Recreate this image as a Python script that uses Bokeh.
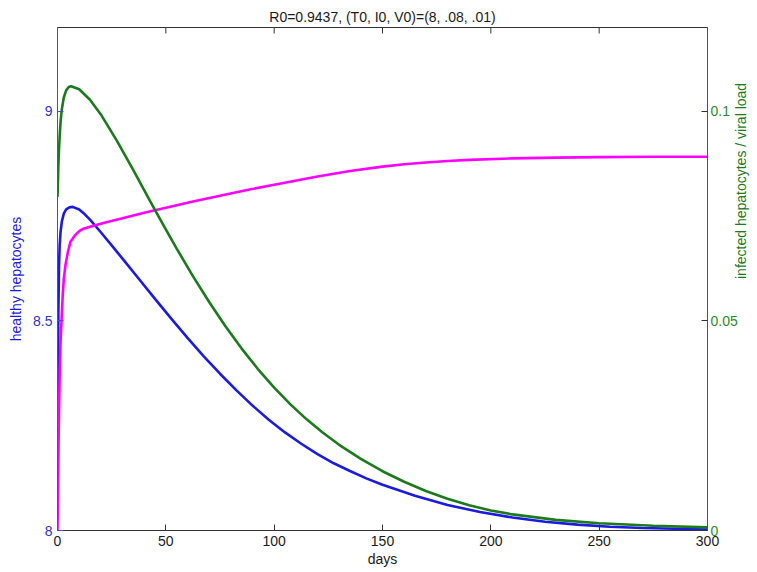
import math
from bokeh.plotting import figure
from bokeh.models import Range1d, LinearAxis, FixedTicker
from bokeh.embed import file_html
from bokeh.resources import INLINE

# healthy hepatocytes (left axis)
days_T = [0, 0.2, 0.4, 0.7, 1.0, 1.4, 2.0, 2.9, 4, 5.5, 7, 10, 12.5, 15, 20, 25, 30, 37.5, 45,
          52.5, 60, 67.5, 75, 82.5, 90, 97.5, 105, 112.5, 120, 127.5, 135, 142.5, 150, 165,
          180, 195, 210, 225, 240, 255, 270, 285, 300]
healthy = [8.10, 8.35, 8.52, 8.63, 8.68, 8.712, 8.737, 8.756, 8.766, 8.771, 8.772, 8.766,
           8.7549, 8.7415, 8.7115, 8.6803, 8.6485, 8.6005, 8.5525, 8.5053, 8.4595, 8.4156,
           8.374, 8.3348, 8.298, 8.2644, 8.234, 8.207, 8.182, 8.1604, 8.142, 8.1244, 8.109,
           8.083, 8.061, 8.044, 8.031, 8.021, 8.014, 8.009, 8.006, 8.004, 8.002]

# infected hepatocytes (right axis)
days_I = [0, 0.2, 0.4, 0.7, 1.0, 1.4, 2, 2.9, 4, 5.2, 6.3, 10, 15, 20, 27.5, 35, 43, 49, 55,
          62.5, 70, 77.5, 85, 92.5, 100, 107.5, 115, 122.5, 130, 140, 150, 160, 170, 180,
          190, 200, 210, 230, 250, 275, 300]
infected = [0.0796, 0.083, 0.087, 0.091, 0.094, 0.0974, 0.1005, 0.1033, 0.105, 0.1058, 0.106,
            0.10526, 0.10276, 0.09926, 0.09289, 0.08595, 0.07835, 0.07272, 0.06725, 0.06069,
            0.0545, 0.04872, 0.0434, 0.03852, 0.0341, 0.0301, 0.02652, 0.02332, 0.02044,
            0.01707, 0.01414, 0.01162, 0.00944, 0.00759, 0.00604, 0.00479, 0.00384, 0.00254,
            0.00174, 0.00112, 0.00074]

# third state (magenta, left axis scale)
days_V = [0, 0.3, 0.6, 1.0, 1.4, 1.85, 2.4, 2.9, 3.7, 4.8, 6, 8, 10, 12, 15, 22.5, 30, 40, 50,
          62.5, 75, 87.5, 100, 120, 135, 150, 160, 170, 180, 190, 210, 230, 250, 275, 300]
magenta_vals = [8.0, 8.12, 8.25, 8.37, 8.45, 8.50, 8.56, 8.60, 8.634, 8.665, 8.689, 8.704,
                8.714, 8.72, 8.7247, 8.7353, 8.745, 8.7578, 8.770, 8.7847, 8.7988, 8.8122,
                8.825, 8.8445, 8.8576, 8.8681, 8.8736, 8.8781, 8.8816, 8.8843, 8.8877,
                8.8896, 8.8907, 8.8915, 8.8917]

x_ticks = [0, 50, 100, 150, 200, 250, 300]
left_ticks = [8, 8.5, 9]
right_ticks = [0, 0.05, 0.1]
LEFT_MIN, LEFT_MAX = 8, 9.2
RIGHT_MIN, RIGHT_MAX = 0, 0.12

FONT = "Liberation Sans"
BLUE = "#1a1ae0"
GREEN = "#1b7a1b"
MAGENTA = "#ff00ff"

p = figure(frame_width=650, frame_height=503,
           x_range=Range1d(0, 300), y_range=Range1d(LEFT_MIN, LEFT_MAX),
           output_backend="svg", toolbar_location=None,
           min_border_left=57, min_border_right=10, min_border_top=27, min_border_bottom=10)
p.extra_y_ranges = {"right": Range1d(RIGHT_MIN, RIGHT_MAX)}
p.xgrid.visible = False
p.ygrid.visible = False
p.outline_line_color = "#333333"
p.outline_line_width = 1
p.background_fill_color = "white"
p.border_fill_color = "white"

p.title.text = "R0=0.9437, (T0, I0, V0)=(8, .08, .01)"
p.title.align = "center"
p.title.text_font = FONT
p.title.text_font_size = "14px"
p.title.text_font_style = "normal"
p.title.text_color = "#1a1a1a"
p.title.standoff = 5

# bottom axis
xa = p.xaxis[0]
xa.ticker = FixedTicker(ticks=x_ticks)
xa.axis_label = "days"
xa.axis_label_text_font = FONT
xa.axis_label_text_font_size = "14px"
xa.axis_label_text_font_style = "normal"
xa.axis_label_text_color = "#1a1a1a"
xa.axis_label_standoff = 2
xa.major_label_text_font = FONT
xa.major_label_text_font_size = "14px"
xa.major_label_text_color = "#1a1a1a"
xa.major_label_standoff = 5
xa.major_tick_in = 6
xa.major_tick_out = 0
xa.minor_tick_line_color = None
xa.axis_line_color = "#333333"
xa.major_tick_line_color = "#333333"

# left axis
ya = p.yaxis[0]
ya.ticker = FixedTicker(ticks=left_ticks)
ya.axis_label = "healthy hepatocytes"
ya.axis_label_text_font = FONT
ya.axis_label_text_font_size = "14px"
ya.axis_label_text_font_style = "normal"
ya.axis_label_text_color = BLUE
ya.axis_label_standoff = 6
ya.major_label_text_font = FONT
ya.major_label_text_font_size = "14px"
ya.major_label_text_color = "#3030c8"
ya.major_label_standoff = 5
ya.major_tick_in = 6
ya.major_tick_out = 0
ya.minor_tick_line_color = None
ya.axis_line_color = "#4848d8"
ya.major_tick_line_color = "#4848d8"

# right axis
ra = LinearAxis(y_range_name="right", ticker=FixedTicker(ticks=right_ticks))
ra.axis_label = "infected hepatocytes / viral load"
ra.axis_label_text_font = FONT
ra.axis_label_text_font_size = "14px"
ra.axis_label_text_font_style = "normal"
ra.axis_label_text_color = GREEN
ra.axis_label_standoff = 0
try:
    ra.axis_label_orientation = math.pi / 2
except Exception:
    pass
ra.major_label_text_font = FONT
ra.major_label_text_font_size = "14px"
ra.major_label_text_color = "#2a8a2a"
ra.major_label_standoff = 3
ra.major_tick_in = 6
ra.major_tick_out = 0
ra.minor_tick_line_color = None
ra.axis_line_color = GREEN
ra.major_tick_line_color = "#223355"
p.add_layout(ra, "right")

# top box ticks (inward), at the x tick positions
tick_len = (LEFT_MAX - LEFT_MIN) * 6 / 503
p.segment(x0=x_ticks, x1=x_ticks, y0=[LEFT_MAX] * len(x_ticks),
          y1=[LEFT_MAX - tick_len] * len(x_ticks), line_color="#333333", line_width=1)

p.line(days_T, healthy, line_color=BLUE, line_width=2.6)
p.line(days_V, magenta_vals, line_color=MAGENTA, line_width=2.6)
p.line(days_I, infected, line_color=GREEN, line_width=2.6, y_range_name="right")

open("out.html", "w").write(file_html(p, INLINE))
